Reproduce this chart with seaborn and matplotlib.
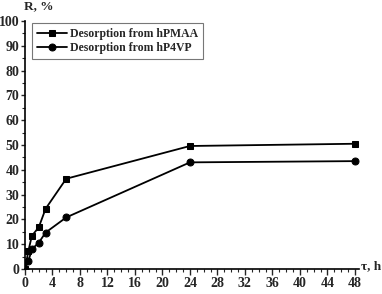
import numpy as np
import pandas as pd
import seaborn as sns
import matplotlib
matplotlib.use("Agg")
import matplotlib.pyplot as plt
from matplotlib.ticker import MultipleLocator

time_h = [0, 0.5, 1, 2, 3, 6, 24, 48]
hpmaa = [0, 7.4, 13.4, 16.8, 24.3, 36.4, 49.6, 50.5]
hp4vp = [0, 3.2, 8.0, 10.6, 14.7, 20.8, 43.0, 43.5]
series_names = ["Desorption from hPMAA", "Desorption from hP4VP"]

df = pd.DataFrame({
    "t": time_h * 2,
    "R": hpmaa + hp4vp,
    "series": [series_names[0]] * len(time_h) + [series_names[1]] * len(time_h),
})

sns.set_style("ticks")
plt.rcParams["font.family"] = ["Liberation Serif", "DejaVu Serif"]
plt.rcParams["font.weight"] = "bold"

fig = plt.figure(figsize=(3.82, 2.94), dpi=100)
ax = fig.add_axes([25 / 382, 1 - 269 / 294, 334 / 382, 248 / 294])

sns.lineplot(data=df, x="t", y="R", hue="series", style="series",
             markers=["s", "o"], dashes=False, palette=["black", "black"],
             markersize=5, linewidth=1.3, markeredgecolor="black",
             ax=ax, legend=True)

ax.set_xlim(0, 48.6)
ax.set_ylim(0, 100)
ax.xaxis.set_major_locator(MultipleLocator(4))
ax.xaxis.set_minor_locator(MultipleLocator(1))
ax.yaxis.set_major_locator(MultipleLocator(10))
ax.yaxis.set_minor_locator(MultipleLocator(5))
ax.tick_params(which="major", direction="out", length=4, width=1, labelsize=10, pad=2)
ax.tick_params(axis="y", which="major", length=3, pad=1)
ax.tick_params(which="minor", direction="out", length=2, width=0.8)
for lab in ax.get_xticklabels() + ax.get_yticklabels():
    lab.set_fontweight("bold")
for s in ["top", "right"]:
    ax.spines[s].set_visible(False)
for s in ["left", "bottom"]:
    ax.spines[s].set_linewidth(1.2)
    ax.spines[s].set_color("black")
ax.set_xlabel("")
ax.set_ylabel("")

leg = ax.legend(loc="upper left", bbox_to_anchor=(7 / 334, 1 - 2 / 248),
                frameon=True, fancybox=False, edgecolor="#555555",
                prop={"size": 8.5, "weight": "bold"}, handlelength=2.6,
                borderpad=0.4, labelspacing=0.2, handletextpad=0.2,
                borderaxespad=0)
leg.get_frame().set_linewidth(0.8)

fig.text(24 / 382, 1 - 6 / 294, "R, %", fontsize=9.5, fontweight="bold", va="center", ha="left")
fig.text(381 / 382, 1 - 266 / 294, "τ, h", fontsize=9.5, fontweight="bold", va="center", ha="right")

fig.savefig("out.png", dpi=100)
